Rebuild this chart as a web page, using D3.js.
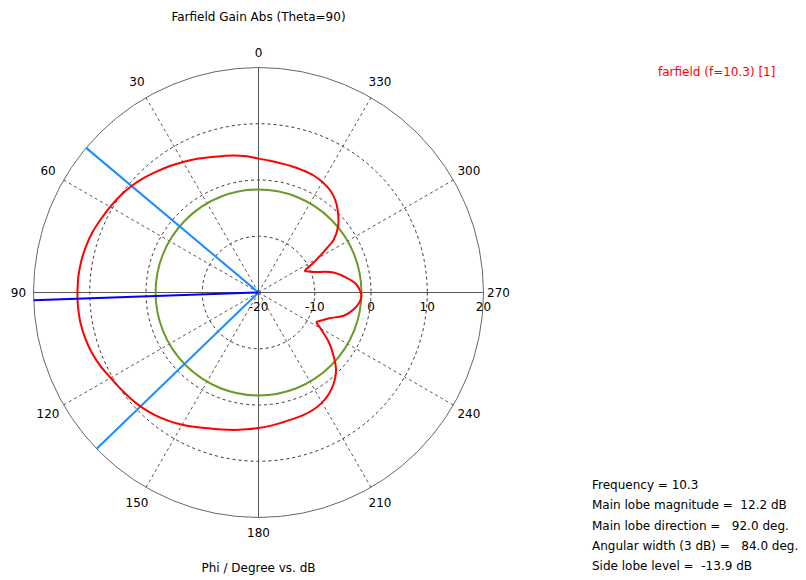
<!DOCTYPE html>
<html>
<head>
<meta charset="utf-8">
<script src="https://cdn.jsdelivr.net/npm/d3@7"></script>
<style>
  html, body { margin: 0; padding: 0; background: #fff; }
  svg { display: block; }
  text { font-family: "DejaVu Sans", Tahoma, sans-serif; font-size: 12px; fill: #000; }
</style>
</head>
<body>
<svg id="chart" width="806" height="580"></svg>
<script>
// Farfield gain (dB) versus phi (degrees), cut at theta = 90
const phiDeg = [0, 5, 10, 15, 20, 25, 30, 35, 40, 45, 50, 55, 60, 65, 70, 75, 80, 85, 90, 92, 95,
  100, 105, 110, 115, 120, 125, 130, 135, 140, 145, 150, 155, 160, 165, 170, 175, 180, 185, 190,
  195, 200, 205, 210, 215, 220, 225, 230, 235, 240, 243, 245, 250, 255, 260, 265, 268, 270, 275,
  280, 285, 290, 293, 295, 298, 300, 303, 305, 310, 315, 320, 325, 330, 335, 340, 345, 350, 355];
const gainDb = [3.8, 4.3, 4.75, 5.1, 5.6, 6.2, 6.8, 7.45, 8.1, 8.8, 9.45, 10.0, 10.45, 10.9, 11.4, 11.75, 12.0, 12.15, 12.18, 12.2, 12.18,
  12.1, 11.85, 11.5, 11.0, 10.35, 9.9, 9.5, 9.05, 8.5, 7.85, 7.15, 6.4, 5.7, 5.2, 4.8, 4.4, 4.1, 3.8, 3.5,
  3.3, 3.2, 3.0, 2.6, 1.9, 0.9, -0.5, -2.6, -4.8, -7.3, -8.4, -8.0, -6.6, -4.2, -2.8, -1.9, -1.7, -1.8, -2.6,
  -4.3, -6.2, -9.3, -10.4, -10.9, -9.2, -7.8, -5.5, -3.7, -1.5, 0.0, 1.3, 2.2, 2.7, 3.0, 3.1, 3.2, 3.3, 3.5];

// Polar grid
const angleTicks = [0, 30, 60, 90, 120, 150, 180, 210, 240, 270, 300, 330];
const dbTicks = [-20, -10, 0, 10, 20];

// Pattern figures
const frequency = 10.3;
const mainLobeMagnitude = 12.2;
const mainLobeDirection = 92.0;
const angularWidth3dB = 84.0;
const beamEdges = [50, 134];
const sideLobeLevel = -13.9;

const titleText = "Farfield Gain Abs (Theta=90)";
const axisTitle = "Phi / Degree vs. dB";
const legendText = "farfield (f=10.3) [1]";
const infoLines = [
  "Frequency = " + frequency,
  "Main lobe magnitude =  " + mainLobeMagnitude.toFixed(1) + " dB",
  "Main lobe direction =   " + mainLobeDirection.toFixed(1) + " deg.",
  "Angular width (3 dB) =   " + angularWidth3dB.toFixed(1) + " deg.",
  "Side lobe level =  " + sideLobeLevel.toFixed(1) + " dB"
];

const svg = d3.select("#chart");
const cx = 258.5, cy = 292.5, R = 225;
const r = d3.scaleLinear().domain([-20, 20]).range([0, R]);
const rad = d => d * Math.PI / 180;
// phi counts counter-clockwise from the top
const pt = (phi, radius) => [cx - radius * Math.sin(rad(phi)), cy - radius * Math.cos(rad(phi))];

const g = svg.append("g");

// dashed spokes
g.selectAll("line.spoke")
  .data(angleTicks.filter(a => a % 90 !== 0))
  .join("line")
  .attr("x1", cx).attr("y1", cy)
  .attr("x2", a => pt(a, R)[0]).attr("y2", a => pt(a, R)[1])
  .attr("stroke", "#555").attr("stroke-width", 1).attr("stroke-dasharray", "3,3");

// dashed level rings
g.selectAll("circle.ring")
  .data(dbTicks.filter(d => d > -20 && d < 20))
  .join("circle")
  .attr("cx", cx).attr("cy", cy).attr("r", d => r(d))
  .attr("fill", "none").attr("stroke", "#333").attr("stroke-width", 1).attr("stroke-dasharray", "3,3");

// outer ring
g.append("circle")
  .attr("cx", cx).attr("cy", cy).attr("r", r(20))
  .attr("fill", "none").attr("stroke", "#666").attr("stroke-width", 1);

// main axes
[0, 90].forEach(a => {
  const p1 = pt(a, R), p2 = pt(a + 180, R);
  g.append("line")
    .attr("x1", p1[0]).attr("y1", p1[1]).attr("x2", p2[0]).attr("y2", p2[1])
    .attr("stroke", "#555").attr("stroke-width", 1);
});

// side lobe level ring
g.append("circle")
  .attr("cx", cx).attr("cy", cy).attr("r", r(mainLobeMagnitude + sideLobeLevel))
  .attr("fill", "none").attr("stroke", "#6b9a28").attr("stroke-width", 2);

// 3 dB beam edges
g.selectAll("line.edge")
  .data(beamEdges)
  .join("line")
  .attr("x1", cx).attr("y1", cy)
  .attr("x2", a => pt(a, R)[0]).attr("y2", a => pt(a, R)[1])
  .attr("stroke", "#1a8cff").attr("stroke-width", 2);

// gain pattern
const pattern = phiDeg.map((p, i) => ({ phi: p, db: gainDb[i] }));
const radial = d3.lineRadial()
  .angle(d => -rad(d.phi))
  .radius(d => r(d.db))
  .curve(d3.curveCatmullRomClosed.alpha(0.5));
g.append("path")
  .datum(pattern)
  .attr("transform", `translate(${cx},${cy})`)
  .attr("d", radial)
  .attr("fill", "none").attr("stroke", "#ff0000").attr("stroke-width", 2);

// main lobe direction
g.append("line")
  .attr("x1", cx).attr("y1", cy)
  .attr("x2", pt(mainLobeDirection, R)[0]).attr("y2", pt(mainLobeDirection, R)[1])
  .attr("stroke", "#0000ff").attr("stroke-width", 2);

// angle labels
g.selectAll("text.ang")
  .data(angleTicks)
  .join("text")
  .attr("x", a => pt(a, a % 90 === 0 ? 240 : 243)[0])
  .attr("y", a => pt(a, a % 90 === 0 ? 240 : 243)[1])
  .attr("text-anchor", "middle").attr("dominant-baseline", "central")
  .text(d => d);

// level labels along the right axis
g.selectAll("text.db")
  .data(dbTicks)
  .join("text")
  .attr("x", d => cx + r(d))
  .attr("y", cy + 18)
  .attr("text-anchor", "middle")
  .text(d => d);

svg.append("text").attr("x", cx).attr("y", 20.5).attr("text-anchor", "middle").text(titleText);
svg.append("text").attr("x", cx).attr("y", 572).attr("text-anchor", "middle").text(axisTitle);
svg.append("text").attr("x", 658).attr("y", 76).style("fill", "#ff0000").text(legendText);

svg.selectAll("text.info")
  .data(infoLines)
  .join("text")
  .attr("x", 592)
  .attr("y", (d, i) => 489 + i * 20.3)
  .style("white-space", "pre")
  .attr("xml:space", "preserve")
  .text(d => d);
</script>
</body>
</html>
